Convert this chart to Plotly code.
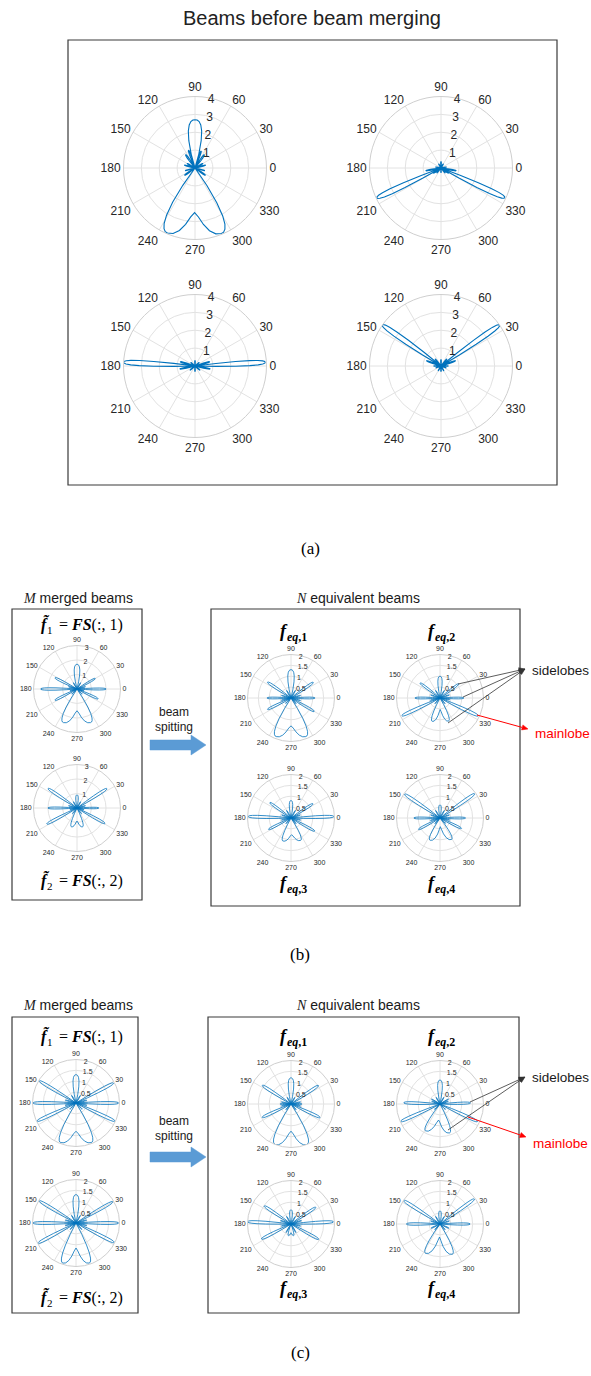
import math
import plotly.graph_objects as go

W, H = 591, 1376
BLUE = "#0072BD"

# ---------------------------------------------------------------------------
# Beam patterns. Each pattern = list of lobes (direction deg, peak gain,
# half-width deg) plus an optional notched main lobe
# [centre deg, peak gain, dip gain, peak offset deg, edge offset deg].
# ---------------------------------------------------------------------------

# (a) beams before merging, gain axis 0..4
A1_DIR = [90, 55, 70, 110, 125, 150, 165, 195, 215, 325, 345, 15, 30]
A1_GAIN = [2.7, 0.9, 1.0, 1.05, 0.9, 0.5, 0.6, 0.55, 0.7, 0.7, 0.55, 0.6, 0.5]
A1_WID = [17, 5, 4, 4, 5, 4, 4, 4, 5, 5, 4, 4, 4]
A1_MAIN = [269.5, 3.95, 2.5, 22.5, 36]

A2_DIR = [205, 335, 190, 350, 215, 325, 90, 60, 120, 230, 310, 270, 170, 10]
A2_GAIN = [3.95, 3.93, 0.85, 0.85, 0.5, 0.5, 0.35, 0.25, 0.25, 0.35, 0.35, 0.25, 0.3, 0.3]
A2_WID = [4.6, 4.6, 4, 4, 4, 4, 6, 5, 5, 4, 4, 6, 4, 4]
A2_MAIN = None

A3_DIR = [177, 3, 164, 191, 16, 349, 90, 270, 140, 40, 220, 320]
A3_GAIN = [4.0, 3.93, 0.85, 0.85, 0.85, 0.85, 0.3, 0.3, 0.3, 0.3, 0.35, 0.35]
A3_WID = [4.4, 4.4, 4, 4, 4, 4, 6, 6, 5, 5, 5, 5]
A3_MAIN = None

A4_DIR = [145, 35, 160, 20, 130, 50, 180, 0, 90, 270, 240, 300, 200, 340]
A4_GAIN = [4.0, 3.99, 0.85, 0.85, 0.5, 0.5, 0.4, 0.4, 0.35, 0.3, 0.3, 0.3, 0.3, 0.3]
A4_WID = [4.4, 4.4, 4, 4, 4, 4, 4, 4, 6, 6, 5, 5, 4, 4]
A4_MAIN = None

# (b) merged beams (gain 0..3) and equivalent beams (gain 0..2)
B1_DIR = [90, 180, 0, 153, 30, 207, 335, 165, 15, 120, 60, 195, 345, 225, 315]
B1_GAIN = [1.7, 2.5, 2.0, 1.7, 1.45, 1.7, 1.6, 0.6, 0.6, 0.5, 0.5, 0.5, 0.5, 0.5, 0.5]
B1_WID = [14, 4.2, 4.2, 5, 5, 5, 5, 4, 4, 4, 4, 4, 4, 4, 4]
B1_MAIN = [270, 2.5, 1.5, 22, 34]

B2_DIR = [90, 180, 0, 146, 33, 208, 331, 165, 15, 120, 60, 193, 347, 232, 308]
B2_GAIN = [0.9, 2.0, 1.5, 2.4, 2.45, 2.35, 2.2, 0.6, 0.6, 0.5, 0.5, 0.5, 0.5, 0.5, 0.5]
B2_WID = [12, 4.2, 4.2, 4.6, 4.6, 4.6, 4.6, 4, 4, 4, 4, 4, 4, 4, 4]
B2_MAIN = [270, 1.35, 0.9, 16, 26]

B3_DIR = [90, 146, 180, 206, 35, 0, 330, 165, 15, 193, 345, 120, 60, 225, 312]
B3_GAIN = [1.3, 1.3, 1.1, 1.2, 1.25, 1.1, 1.23, 0.45, 0.45, 0.45, 0.45, 0.4, 0.4, 0.35, 0.35]
B3_WID = [14, 5, 4.5, 5, 5, 4.5, 5, 4, 4, 4, 4, 4, 4, 4, 4]
B3_MAIN = [270, 1.9, 1.28, 21, 33]

B4_DIR = [90, 143, 180, 205, 37, 0, 335, 162, 18, 193, 350, 120, 60, 228, 312]
B4_GAIN = [1.0, 1.14, 1.15, 1.93, 1.08, 1.09, 1.94, 0.45, 0.45, 0.45, 0.45, 0.4, 0.4, 0.35, 0.35]
B4_WID = [12, 5, 4.5, 4.4, 5, 4.5, 4.4, 4, 4, 4, 4, 4, 4, 4, 4]
B4_MAIN = [271, 1.13, 0.53, 19, 29]

B5_DIR = [90, 144, 178, 207, 33, 2, 331, 162, 18, 192, 348, 120, 60, 228, 312]
B5_GAIN = [0.8, 1.2, 1.97, 1.16, 1.2, 1.97, 1.24, 0.45, 0.45, 0.45, 0.45, 0.4, 0.4, 0.35, 0.35]
B5_WID = [12, 5, 4.2, 5, 5, 4.2, 5, 4, 4, 4, 4, 4, 4, 4, 4]
B5_MAIN = [272, 1.12, 0.77, 21, 31]

B6_DIR = [90, 146, 180, 208, 35, 0, 334, 162, 18, 194, 348, 120, 60, 228, 316]
B6_GAIN = [0.6, 1.96, 1.2, 1.12, 1.94, 1.17, 1.1, 0.45, 0.45, 0.45, 0.45, 0.4, 0.4, 0.35, 0.35]
B6_WID = [12, 4.4, 4.5, 5, 4.4, 4.5, 5, 4, 4, 4, 4, 4, 4, 4, 4]
B6_MAIN = [272, 1.12, 0.4, 26, 36]

# (c) merged beams and equivalent beams, gain axis 0..2
C1_DIR = [90, 149, 180, 205, 28, 0, 335, 165, 14, 192, 348, 120, 60, 225, 315]
C1_GAIN = [1.3, 1.97, 1.97, 1.97, 1.95, 1.95, 1.97, 0.5, 0.5, 0.5, 0.5, 0.4, 0.4, 0.4, 0.4]
C1_WID = [13, 4.2, 4.2, 4.2, 4.2, 4.2, 4.2, 4, 4, 4, 4, 4, 4, 4, 4]
C1_MAIN = [270, 1.95, 1.3, 21, 32]

C2_DIR = [90, 149, 180, 208, 30, 0, 333, 165, 15, 193, 347, 120, 60, 228, 312]
C2_GAIN = [1.3, 1.97, 1.97, 1.97, 1.95, 1.95, 1.97, 0.5, 0.5, 0.5, 0.5, 0.4, 0.4, 0.4, 0.4]
C2_WID = [13, 4.2, 4.2, 4.2, 4.2, 4.2, 4.2, 4, 4, 4, 4, 4, 4, 4, 4]
C2_MAIN = [270, 1.94, 1.15, 18, 28]

C3_DIR = [90, 147, 205, 34, 335, 180, 0, 168, 192, 12, 348, 120, 60, 228, 312]
C3_GAIN = [1.2, 1.57, 1.46, 1.52, 1.47, 0.5, 0.5, 0.45, 0.45, 0.45, 0.45, 0.35, 0.35, 0.35, 0.35]
C3_WID = [13, 4.8, 4.8, 4.8, 4.8, 5, 5, 4, 4, 4, 4, 4, 4, 4, 4]
C3_MAIN = [270, 2.0, 1.25, 21, 33]

C4_DIR = [90, 178, 204, 2, 335, 150, 30, 162, 18, 120, 60, 225, 315]
C4_GAIN = [1.1, 1.66, 1.97, 1.4, 1.9, 0.45, 0.45, 0.4, 0.4, 0.35, 0.35, 0.35, 0.35]
C4_WID = [12, 4.5, 4.3, 4.5, 4.3, 4, 4, 4, 4, 4, 4, 4, 4]
C4_MAIN = [265, 1.4, 0.74, 23, 33]

C5_DIR = [90, 177, 3, 146, 34, 207, 331, 162, 18, 192, 348, 120, 60, 240, 300]
C5_GAIN = [0.65, 2.0, 1.95, 1.48, 1.37, 1.52, 1.45, 0.5, 0.5, 0.45, 0.45, 0.4, 0.4, 0.45, 0.45]
C5_WID = [12, 4.2, 4.2, 4.8, 4.8, 4.8, 4.8, 4, 4, 4, 4, 4, 4, 4, 4]
C5_MAIN = [270, 0.55, 0.4, 12, 20]

C6_DIR = [90, 147, 36, 180, 0, 162, 18, 120, 60, 205, 335, 228, 312]
C6_GAIN = [0.6, 2.0, 1.95, 1.54, 1.38, 0.45, 0.45, 0.4, 0.4, 0.45, 0.45, 0.35, 0.35]
C6_WID = [12, 4.3, 4.3, 4.6, 4.6, 4, 4, 4, 4, 4, 4, 4, 4]
C6_MAIN = [268, 1.5, 0.6, 24, 34]

ANG_TICKS = list(range(0, 360, 30))

# ---------------------------------------------------------------------------
# Lobe outline profile (fraction of the way from null to peak -> gain fraction)
HALF_T = [0, 0.1, 0.25, 0.4, 0.55, 0.7, 0.85, 1.0]
HALF_F = [0, 0.3, 0.58, 0.78, 0.9, 0.965, 0.995, 1.0]
NOTCH_T = [0.2, 0.4, 0.6, 0.8, 1.0]
NOTCH_F = [0.94, 0.76, 0.48, 0.17, 0.0]


def outline(dirs, gains, wids, main):
    lobes = [(d, "p", (g, w)) for d, g, w in zip(dirs, gains, wids)]
    if main is not None:
        lobes.append((main[0], "m", main))
    lobes.sort(key=lambda t: t[0])
    th, rr = [], []
    for d, kind, p in lobes:
        if kind == "p":
            g, w = p
            for t, f in zip(HALF_T, HALF_F):
                th.append(d - w + w * t)
                rr.append(g * f)
            for t, f in zip(HALF_T[-2::-1], HALF_F[-2::-1]):
                th.append(d + w - w * t)
                rr.append(g * f)
        else:
            c, g, dip, s, e = p
            for t, f in zip(HALF_T, HALF_F):
                th.append(c - e + (e - s) * t)
                rr.append(g * f)
            for t, f in zip(NOTCH_T, NOTCH_F):
                th.append(c - s + s * t)
                rr.append(dip + (g - dip) * f)
            for t, f in zip(NOTCH_T[-2::-1], NOTCH_F[-2::-1]):
                th.append(c + s - s * t)
                rr.append(dip + (g - dip) * f)
            for t, f in zip(HALF_T[::-1], HALF_F[::-1]):
                th.append(c + e - (e - s) * t)
                rr.append(g * f)
    return th, rr


def px(x):
    return x / W


def py(y):
    return 1 - y / H


# subplot placement: centre (px), radius (px), gain axis, style
BIG = dict(R=71.5, font=12, lw=1.1)
SMALL = dict(R=43.5, font=7, lw=0.8)
PLOTS = [
    (A1_DIR, A1_GAIN, A1_WID, A1_MAIN, 195, 168, 4, BIG),
    (A2_DIR, A2_GAIN, A2_WID, A2_MAIN, 441, 168, 4, BIG),
    (A3_DIR, A3_GAIN, A3_WID, A3_MAIN, 195, 366, 4, BIG),
    (A4_DIR, A4_GAIN, A4_WID, A4_MAIN, 441, 366, 4, BIG),
    (B1_DIR, B1_GAIN, B1_WID, B1_MAIN, 77, 689, 3, SMALL),
    (B2_DIR, B2_GAIN, B2_WID, B2_MAIN, 77, 808, 3, SMALL),
    (B3_DIR, B3_GAIN, B3_WID, B3_MAIN, 291, 698, 2, SMALL),
    (B4_DIR, B4_GAIN, B4_WID, B4_MAIN, 440, 698, 2, SMALL),
    (B5_DIR, B5_GAIN, B5_WID, B5_MAIN, 291, 818, 2, SMALL),
    (B6_DIR, B6_GAIN, B6_WID, B6_MAIN, 440, 818, 2, SMALL),
    (C1_DIR, C1_GAIN, C1_WID, C1_MAIN, 76, 1103, 2, SMALL),
    (C2_DIR, C2_GAIN, C2_WID, C2_MAIN, 76, 1223, 2, SMALL),
    (C3_DIR, C3_GAIN, C3_WID, C3_MAIN, 291, 1104, 2, SMALL),
    (C4_DIR, C4_GAIN, C4_WID, C4_MAIN, 440, 1104, 2, SMALL),
    (C5_DIR, C5_GAIN, C5_WID, C5_MAIN, 291, 1224, 2, SMALL),
    (C6_DIR, C6_GAIN, C6_WID, C6_MAIN, 440, 1224, 2, SMALL),
]

RADIAL_TICKS = {4: [1, 2, 3, 4], 3: [1, 2, 3], 2: [0.5, 1, 1.5, 2]}

fig = go.Figure()
layout_polars = {}
for i, (dirs, gains, wids, main, cx, cy, rmax, st) in enumerate(PLOTS):
    name = "polar" if i == 0 else f"polar{i + 1}"
    th, rr = outline(dirs, gains, wids, main)
    fig.add_trace(go.Scatterpolar(
        theta=th, r=rr, mode="lines", subplot=name,
        line=dict(color=BLUE, width=st["lw"]), hoverinfo="skip",
    ))
    R = st["R"]
    rt = RADIAL_TICKS[rmax]
    layout_polars[name] = dict(
        domain=dict(x=[px(cx - R), px(cx + R)], y=[py(cy + R), py(cy - R)]),
        bgcolor="white",
        angularaxis=dict(
            direction="counterclockwise", rotation=0,
            tickmode="array", tickvals=ANG_TICKS,
            ticktext=[str(a) for a in ANG_TICKS],
            ticks="", showline=True, linecolor="#cfcfcf", linewidth=1,
            gridcolor="#e2e2e2", gridwidth=1,
            tickfont=dict(family="Liberation Sans", size=st["font"], color="#262626"),
        ),
        radialaxis=dict(
            range=[0, rmax], tickmode="array", tickvals=rt,
            ticktext=[f"{v:g}" for v in rt],
            angle=85, tickangle=85, showline=False, ticks="",
            gridcolor="#e2e2e2", gridwidth=1,
            tickfont=dict(family="Liberation Sans", size=st["font"], color="#262626"),
        ),
    )

fig.update_layout(**layout_polars)

# frames around the panels
BOXES = [(68, 40, 557, 485), (12, 609, 142, 900), (211, 609, 520, 906),
         (12, 1017, 138, 1313), (208, 1017, 519, 1313)]
shapes = []
for x0, y0, x1, y1 in BOXES:
    shapes.append(dict(type="rect", xref="paper", yref="paper",
                       x0=px(x0), x1=px(x1), y0=py(y1), y1=py(y0),
                       line=dict(color="#3a3a3a", width=1.2)))


def poly(pts, color):
    path = "M " + " L ".join(f"{px(x):.5f},{py(y):.5f}" for x, y in pts) + " Z"
    shapes.append(dict(type="path", xref="paper", yref="paper", path=path,
                       fillcolor=color, line=dict(color=color, width=0.5)))


# "beam spitting" block arrows
for yc in (745, 1157):
    poly([(150, yc - 5), (191, yc - 5), (191, yc - 10), (206, yc),
          (191, yc + 10), (191, yc + 5), (150, yc + 5)], "#5B9BD5")


def arrow(head, tail, color, width=0.8, hl=6.0, hw=2.6):
    dx, dy = head[0] - tail[0], head[1] - tail[1]
    n = math.hypot(dx, dy)
    ux, uy = dx / n, dy / n
    bx, by = head[0] - hl * ux, head[1] - hl * uy
    shapes.append(dict(type="line", xref="paper", yref="paper",
                       x0=px(tail[0]), y0=py(tail[1]), x1=px(bx), y1=py(by),
                       line=dict(color=color, width=width)))
    poly([head, (bx - hw * uy, by + hw * ux), (bx + hw * uy, by - hw * ux)], color)


for tail in ((458, 684), (463, 697), (448, 723)):
    arrow((525, 669), tail, "#333333")
arrow((528, 729), (477, 715), "#ff0000", width=1.0)
for tail in ((470, 1102), (448, 1130)):
    arrow((525, 1077), tail, "#333333")
arrow((526, 1137), (468, 1117), "#ff0000", width=1.0)

ann = []
SANS = "Liberation Sans"
SERIF = "Liberation Serif"


def text(x, y, s, size, family=SANS, color="#1a1a1a", xa="center"):
    ann.append(dict(x=px(x), y=py(y), xref="paper", yref="paper", text=s,
                    showarrow=False, xanchor=xa, yanchor="middle",
                    font=dict(family=family, size=size, color=color)))


def ftilde(xs, y, k):
    # merged-beam label: f~_k = FS(:, k)
    text(xs, y - 1, "<b><i>f\u0303</i></b>", 16, SERIF, "#000", "right")
    text(xs - 7, y + 5, str(k), 11, SERIF, "#000", "left")
    text(xs + 5, y, "= <b><i>FS</i></b>(:, %d)" % k, 16, SERIF, "#000", "left")


def feq(xc, y, k):
    # equivalent-beam label: f_eq,k
    text(xc - 2, y - 2, "<b><i>f</i></b>", 18, SERIF, "#000", "right")
    text(xc - 7, y + 4, "<b><i>eq</i>,%d</b>" % k, 12, SERIF, "#000", "left")


text(312, 18, "Beams before beam merging", 20, color="#222")
text(310, 548, "(a)", 17, family=SERIF, color="#000")
text(300, 955, "(b)", 17, family=SERIF, color="#000")
text(300, 1352, "(c)", 17, family=SERIF, color="#000")

ITAL = "<span style=\"font-family:'Liberation Serif'\"><i>%s</i></span>"
for y_m, y_f1, y_f2, y_e1, y_e3 in ((598, 625, 881, 633, 885),
                                    (1005, 1037, 1298, 1038, 1290)):
    text(78, y_m, ITAL % "M" + " merged beams", 14)
    text(358, y_m, ITAL % "N" + " equivalent beams", 14)
    ftilde(52, y_f1, 1)
    ftilde(52, y_f2, 2)
    feq(292, y_e1, 1)
    feq(440, y_e1, 2)
    feq(292, y_e3, 3)
    feq(440, y_e3, 4)

for yb in (712, 1121):
    text(174, yb, "beam", 12)
    text(174, yb + 15, "spitting", 12)

text(530, 670, "sidelobes", 13.5, xa="left")
text(533, 734, "mainlobe", 13.5, color="#ff0000", xa="left")
text(530, 1077, "sidelobes", 13.5, xa="left")
text(531, 1143, "mainlobe", 13.5, color="#ff0000", xa="left")

fig.update_layout(
    width=W, height=H, margin=dict(l=0, r=0, t=0, b=0),
    paper_bgcolor="white", plot_bgcolor="white", showlegend=False,
    shapes=shapes, annotations=ann,
)

fig.write_html("out.html")
